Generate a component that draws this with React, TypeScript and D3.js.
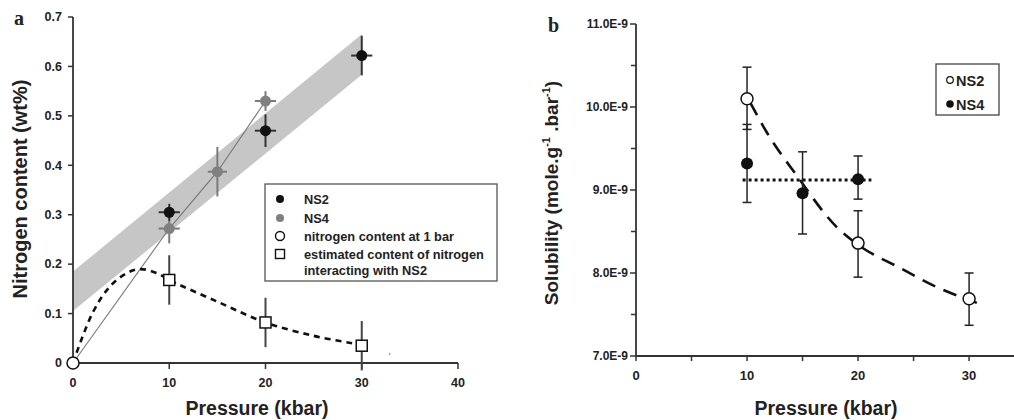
import React from "react";
import * as d3 from "d3";

// ---------- Panel a data ----------
const ns2A = [
  { p: 10, n: 0.305, ex: 1.1, ey: 0.017 },
  { p: 20, n: 0.47, ex: 1.1, ey: 0.033 },
  { p: 30, n: 0.622, ex: 1.1, ey: 0.04 },
];
const ns4A = [
  { p: 10, n: 0.272, ex: 1.1, ey: 0.03 },
  { p: 15, n: 0.387, ex: 1.0, ey: 0.05 },
  { p: 20, n: 0.53, ex: 1.1, ey: 0.02 },
];
const oneBarA = [{ p: 0, n: 0 }];
const interactA = [
  { p: 10, n: 0.168, ey: 0.05 },
  { p: 20, n: 0.082, ey: 0.05 },
  { p: 30, n: 0.035, ey: 0.05 },
];
const bandA = [
  { p: 0, lo: 0.105, hi: 0.185 },
  { p: 30, lo: 0.583, hi: 0.665 },
];
const ns4LineA = [
  { p: 0, n: 0 },
  { p: 10, n: 0.272 },
  { p: 15, n: 0.387 },
  { p: 20, n: 0.53 },
];
const dashCurveA = [
  { p: 0, n: 0 },
  { p: 2, n: 0.1 },
  { p: 3.8, n: 0.154 },
  { p: 5.6, n: 0.182 },
  { p: 7, n: 0.19 },
  { p: 8.7, n: 0.182 },
  { p: 10, n: 0.168 },
  { p: 15, n: 0.124 },
  { p: 20, n: 0.082 },
  { p: 25, n: 0.055 },
  { p: 29, n: 0.04 },
];
const xTicksA = [0, 10, 20, 30, 40];
const yTicksA = [0, 0.1, 0.2, 0.3, 0.4, 0.5, 0.6, 0.7];
const legendA = [
  "NS2",
  "NS4",
  "nitrogen content at 1 bar",
  "estimated content of nitrogen",
  "interacting with NS2",
];

// ---------- Panel b data (solubility in 1E-9 mole/g/bar) ----------
const ns2B = [
  { p: 10, s: 10.1, lo: 9.73, hi: 10.48 },
  { p: 20, s: 8.36, lo: 7.95, hi: 8.75 },
  { p: 30, s: 7.69, lo: 7.37, hi: 8.0 },
];
const ns4B = [
  { p: 10, s: 9.32, lo: 8.85, hi: 9.79 },
  { p: 15, s: 8.96, lo: 8.47, hi: 9.46 },
  { p: 20, s: 9.13, lo: 8.89, hi: 9.41 },
];
const dashCurveB = [
  { p: 10.3, s: 10.05 },
  { p: 11.8, s: 9.69 },
  { p: 14.5, s: 9.17 },
  { p: 18.1, s: 8.55 },
  { p: 20, s: 8.34 },
  { p: 23.8, s: 8.06 },
  { p: 27.1, s: 7.83 },
  { p: 30.7, s: 7.64 },
];
const dotLineB = [
  { p: 9.6, s: 9.12 },
  { p: 21.2, s: 9.12 },
];
const xTicksB = [0, 10, 20, 30];
const xMinorB = [5, 15, 25];
const yTicksB = [7, 8, 9, 10, 11];
const yMinorB = [7.5, 8.5, 9.5, 10.5];
const legendB = ["NS2", "NS4"];

const FONT = "'Liberation Sans', Arial, sans-serif";

export default function App() {
  // Panel a scales
  const xA = d3.scaleLinear().domain([0, 40]).range([73, 458]);
  const yA = d3.scaleLinear().domain([0, 0.7]).range([363, 17]);
  // Panel b scales
  const xB = d3.scaleLinear().domain([0, 34]).range([636, 1013.5]);
  const yB = d3.scaleLinear().domain([7, 11]).range([356, 24]);

  const bandPath = d3
    .area<{ p: number; lo: number; hi: number }>()
    .x((d) => xA(d.p))
    .y0((d) => yA(d.lo))
    .y1((d) => yA(d.hi))(bandA) as string;
  const ns4Line = d3
    .line<{ p: number; n: number }>()
    .x((d) => xA(d.p))
    .y((d) => yA(d.n))(ns4LineA) as string;
  const dashA = d3
    .line<{ p: number; n: number }>()
    .x((d) => xA(d.p))
    .y((d) => yA(d.n))
    .curve(d3.curveCatmullRom)(dashCurveA) as string;
  const dashB = d3
    .line<{ p: number; s: number }>()
    .x((d) => xB(d.p))
    .y((d) => yB(d.s))
    .curve(d3.curveMonotoneX)(dashCurveB) as string;
  const dotB = d3
    .line<{ p: number; s: number }>()
    .x((d) => xB(d.p))
    .y((d) => yB(d.s))(dotLineB) as string;

  const axisColor = "#333";

  return (
    <svg
      width={1014}
      height={420}
      style={{ position: "absolute", left: 0, top: 0, background: "#fff" }}
      fontFamily={FONT}
    >
      <rect x={0} y={0} width={1014} height={420} fill="#fff" />

      {/* ================= Panel a ================= */}
      <text x={14} y={25} fontFamily="'Liberation Serif', 'Times New Roman', serif" fontWeight="bold" fontSize={20} fill="#222">
        a
      </text>

      <path d={bandPath} fill="#c6c6c6" />
      <path d={ns4Line} fill="none" stroke="#777" strokeWidth={1.1} />
      <path d={dashA} fill="none" stroke="#111" strokeWidth={2.6} strokeDasharray="6,5" />

      {/* axes a */}
      <line x1={xA(0)} x2={xA(0)} y1={yA(0.7)} y2={yA(0)} stroke={axisColor} strokeWidth={1.8} />
      <line x1={xA(0)} x2={xA(40)} y1={yA(0)} y2={yA(0)} stroke={axisColor} strokeWidth={1.8} />
      {yTicksA.map((t) => (
        <g key={"ya" + t}>
          <line x1={xA(0) - 5} x2={xA(0)} y1={yA(t)} y2={yA(t)} stroke={axisColor} strokeWidth={1.5} />
          <text x={62} y={yA(t) + 4.3} textAnchor="end" fontSize={12.5} fontWeight="bold" fill="#222">
            {t === 0 ? "0" : t.toFixed(1)}
          </text>
        </g>
      ))}
      {xTicksA.map((t) => (
        <g key={"xa" + t}>
          <line x1={xA(t)} x2={xA(t)} y1={yA(0)} y2={yA(0) + 6} stroke={axisColor} strokeWidth={1.5} />
          <text x={xA(t)} y={387} textAnchor="middle" fontSize={12.5} fontWeight="bold" fill="#222">
            {t}
          </text>
        </g>
      ))}
      <text x={257} y={415} textAnchor="middle" fontSize={19.5} fontWeight="bold" fill="#222">
        Pressure (kbar)
      </text>
      <text
        transform={`translate(27,189) rotate(-90)`}
        textAnchor="middle"
        fontSize={20}
        fontWeight="bold"
        fill="#222"
      >
        Nitrogen content (wt%)
      </text>

      {/* square error bars + squares */}
      {interactA.map((d) => (
        <g key={"sq" + d.p}>
          <line x1={xA(d.p)} x2={xA(d.p)} y1={yA(d.n - d.ey)} y2={yA(d.n + d.ey)} stroke="#444" strokeWidth={2} />
          <rect x={xA(d.p) - 5.5} y={yA(d.n) - 5.5} width={11} height={11} fill="#fff" stroke="#111" strokeWidth={1.5} />
        </g>
      ))}

      {/* NS4 */}
      {ns4A.map((d) => (
        <g key={"n4" + d.p}>
          <line x1={xA(d.p)} x2={xA(d.p)} y1={yA(d.n - d.ey)} y2={yA(d.n + d.ey)} stroke="#7a7a7a" strokeWidth={2} />
          <line x1={xA(d.p - d.ex)} x2={xA(d.p + d.ex)} y1={yA(d.n)} y2={yA(d.n)} stroke="#7a7a7a" strokeWidth={2} />
          <circle cx={xA(d.p)} cy={yA(d.n)} r={5.5} fill="#808080" />
        </g>
      ))}
      {/* NS2 */}
      {ns2A.map((d) => (
        <g key={"n2" + d.p}>
          <line x1={xA(d.p)} x2={xA(d.p)} y1={yA(d.n - d.ey)} y2={yA(d.n + d.ey)} stroke="#333" strokeWidth={2} />
          <line x1={xA(d.p - d.ex)} x2={xA(d.p + d.ex)} y1={yA(d.n)} y2={yA(d.n)} stroke="#333" strokeWidth={2} />
          <circle cx={xA(d.p)} cy={yA(d.n)} r={5.5} fill="#111" />
        </g>
      ))}
      {oneBarA.map((d) => (
        <circle key={"ob" + d.p} cx={xA(d.p)} cy={yA(d.n)} r={6} fill="#fff" stroke="#111" strokeWidth={1.5} />
      ))}
      <circle cx={xA(32.9)} cy={yA(0.018)} r={0.9} fill="#888" />

      {/* legend a */}
      <rect x={265} y={184} width={232} height={97} fill="#fff" stroke="#555" strokeWidth={1.3} />
      <circle cx={280} cy={199} r={4} fill="#111" />
      <circle cx={280} cy={218} r={4} fill="#808080" />
      <circle cx={280} cy={236} r={4.5} fill="#fff" stroke="#111" strokeWidth={1.4} />
      <rect x={275.5} y={249.5} width={9} height={9} fill="#fff" stroke="#111" strokeWidth={1.4} />
      {legendA.map((t, i) => (
        <text key={t} x={304} y={[203.5, 222.5, 240.5, 258.5, 274.5][i]} fontSize={12.8} fontWeight="bold" fill="#222">
          {t}
        </text>
      ))}

      {/* ================= Panel b ================= */}
      <text x={548} y={32} fontFamily="'Liberation Serif', 'Times New Roman', serif" fontWeight="bold" fontSize={20} fill="#222">
        b
      </text>

      <line x1={xB(0)} x2={xB(0)} y1={yB(11)} y2={yB(7)} stroke={axisColor} strokeWidth={1.8} />
      <line x1={xB(0)} x2={1014} y1={yB(7)} y2={yB(7)} stroke={axisColor} strokeWidth={1.8} />
      {yTicksB.map((t) => (
        <g key={"yb" + t}>
          <line x1={xB(0) - 6} x2={xB(0)} y1={yB(t)} y2={yB(t)} stroke={axisColor} strokeWidth={1.5} />
          <text x={628} y={yB(t) + 4.2} textAnchor="end" fontSize={12} fontWeight="bold" fill="#222">
            {t.toFixed(1) + "E-9"}
          </text>
        </g>
      ))}
      {yMinorB.map((t) => (
        <line key={"ybm" + t} x1={xB(0) - 5} x2={xB(0)} y1={yB(t)} y2={yB(t)} stroke={axisColor} strokeWidth={1.5} />
      ))}
      {xTicksB.map((t) => (
        <g key={"xb" + t}>
          <line x1={xB(t)} x2={xB(t)} y1={yB(7)} y2={yB(7) + 5} stroke={axisColor} strokeWidth={1.5} />
          <text x={xB(t)} y={380} textAnchor="middle" fontSize={13} fontWeight="bold" fill="#222">
            {t}
          </text>
        </g>
      ))}
      {xMinorB.map((t) => (
        <line key={"xbm" + t} x1={xB(t)} x2={xB(t)} y1={yB(7)} y2={yB(7) + 5} stroke={axisColor} strokeWidth={1.5} />
      ))}
      <text x={826} y={415} textAnchor="middle" fontSize={19.5} fontWeight="bold" fill="#222">
        Pressure (kbar)
      </text>
      <text transform={`translate(558,193) rotate(-90)`} textAnchor="middle" fontSize={19} fontWeight="bold" fill="#222">
        Solubility (mole.g
        <tspan dy={-8} fontSize={11}>-1</tspan>
        <tspan dy={8}> .bar</tspan>
        <tspan dy={-8} fontSize={11}>-1</tspan>
        <tspan dy={8}>)</tspan>
      </text>

      <path d={dashB} fill="none" stroke="#111" strokeWidth={2.6} strokeDasharray="14,9" />
      <path d={dotB} fill="none" stroke="#111" strokeWidth={3} strokeDasharray="3,3" />

      {[...ns2B, ...ns4B].map((d, i) => (
        <g key={"eb" + i}>
          <line x1={xB(d.p)} x2={xB(d.p)} y1={yB(d.lo)} y2={yB(d.hi)} stroke="#222" strokeWidth={1.5} />
          <line x1={xB(d.p) - 4.5} x2={xB(d.p) + 4.5} y1={yB(d.lo)} y2={yB(d.lo)} stroke="#222" strokeWidth={1.5} />
          <line x1={xB(d.p) - 4.5} x2={xB(d.p) + 4.5} y1={yB(d.hi)} y2={yB(d.hi)} stroke="#222" strokeWidth={1.5} />
        </g>
      ))}
      {ns4B.map((d) => (
        <circle key={"b4" + d.p} cx={xB(d.p)} cy={yB(d.s)} r={6} fill="#111" />
      ))}
      {ns2B.map((d) => (
        <circle key={"b2" + d.p} cx={xB(d.p)} cy={yB(d.s)} r={6} fill="#fff" stroke="#111" strokeWidth={1.5} />
      ))}

      {/* legend b */}
      <rect x={936} y={64} width={63} height={51} fill="#fff" stroke="#444" strokeWidth={1.3} />
      <circle cx={950} cy={80} r={3.3} fill="#fff" stroke="#111" strokeWidth={1.2} />
      <circle cx={950} cy={104} r={3.8} fill="#111" />
      {legendB.map((t, i) => (
        <text key={t} x={956} y={[85.5, 109.5][i]} fontSize={14.5} fontWeight="bold" fill="#222">
          {t}
        </text>
      ))}
    </svg>
  );
}
